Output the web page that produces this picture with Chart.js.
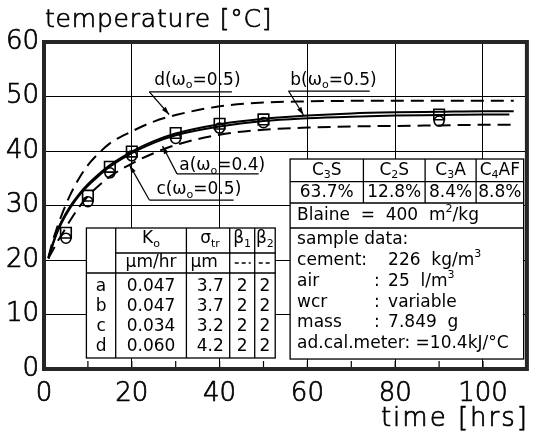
<!DOCTYPE html>
<html>
<head>
<meta charset="utf-8">
<script src="https://cdn.jsdelivr.net/npm/chart.js@4/dist/chart.umd.min.js"></script>
<style>
  html, body { margin: 0; padding: 0; background: #fff; }
  #wrap { width: 536px; height: 440px; }
</style>
</head>
<body>
<div id="wrap"><canvas id="chart" width="536" height="440"></canvas></div>
<script>
// ---- data -------------------------------------------------------------
// model curves: time [hrs] and adiabatic temperature [°C]
const curveTime  = [1, 2, 3, 4, 6, 8, 10, 12, 15, 20, 25, 30, 40, 50, 60, 70, 80, 90, 100, 107];
const curveTimeA = [1, 2, 3, 4, 6, 8, 10, 12, 15, 20, 25, 30, 40, 50, 60, 70, 80, 90, 100, 106];
const curveA = [20.3, 22.8, 25.0, 26.8, 29.6, 31.8, 33.6, 35.1, 37.1, 39.6, 41.5, 42.9, 44.5, 45.5, 46.0, 46.3, 46.5, 46.6, 46.7, 46.7];
const curveB = [20.3, 23.0, 25.3, 27.1, 29.9, 32.1, 33.9, 35.4, 37.4, 39.9, 41.8, 43.2, 44.9, 45.9, 46.5, 46.9, 47.1, 47.2, 47.3, 47.3];
const curveC = [20.3, 21.8, 23.3, 24.6, 27.3, 29.7, 31.7, 33.3, 35.3, 37.7, 39.6, 41.1, 43.0, 43.9, 44.3, 44.5, 44.6, 44.7, 44.8, 44.8];
const curveD = [20.5, 23.5, 26.0, 28.2, 32.0, 35.0, 37.4, 39.2, 41.4, 43.6, 45.4, 46.6, 48.2, 48.9, 49.1, 49.2, 49.2, 49.2, 49.2, 49.2];

// measured temperatures (two specimens)
const measTime   = [5, 10, 15, 20, 30, 40, 50, 90];
const measSquare = [25.0, 31.8, 37.1, 39.9, 43.3, 45.0, 45.8, 46.7];
const measCircle = [24.0, 30.7, 36.0, 39.1, 42.3, 44.2, 45.2, 45.5];

// axes
const xTicks = [0, 20, 40, 60, 80, 100];
const xMinorTicks = [10, 20, 30, 40, 50, 60, 70, 80, 90, 100];
const yTicks = [0, 10, 20, 30, 40, 50, 60];

// model parameter table
const seriesIds = ['a', 'b', 'c', 'd'];
const paramK0 = ['0.047', '0.047', '0.034', '0.060'];
const paramSigma = ['3.7', '3.7', '3.2', '4.2'];
const paramBeta1 = ['2', '2', '2', '2'];
const paramBeta2 = ['2', '2', '2', '2'];
const wcrValues = ['0.4', '0.5', '0.5', '0.5'];

// cement composition
const clinkerPhases = [['C', '3', 'S'], ['C', '2', 'S'], ['C', '3', 'A'], ['C', '4', 'AF']];
const clinkerShares = ['63.7%', '12.8%', '8.4%', '8.8%'];
const blaine = '400';
const sampleRows = [
  ['cement:', '', '226  kg/m', '3'],
  ['air', ':', '25  l/m', '3'],
  ['wcr', ':', 'variable', ''],
  ['mass', ':', '7.849  g', '']
];
const calorimeter = 'ad.cal.meter: =10.4kJ/°C';

// ---- drawing ----------------------------------------------------------
const FONT = '"DejaVu Sans", "Liberation Sans", sans-serif';
const INK = '#000';

const pairs = (xs, ys) => xs.map((x, i) => ({ x, y: ys[i] }));

function setFont(ctx, size, weight) { ctx.font = (weight || 'normal') + ' ' + size + 'px ' + FONT; }

// text made of runs: [text, kind] where kind is '', 'sub' or 'sup'
function runsWidth(ctx, runs, size) {
  let w = 0;
  runs.forEach(([t, k]) => { setFont(ctx, k ? size * 0.65 : size); w += ctx.measureText(t).width; });
  return w;
}
function drawRuns(ctx, runs, x, y, size, align) {
  const w = runsWidth(ctx, runs, size);
  let cx = align === 'center' ? x - w / 2 : (align === 'right' ? x - w : x);
  ctx.textAlign = 'left';
  ctx.textBaseline = 'middle';
  runs.forEach(([t, k]) => {
    const s = k ? size * 0.65 : size;
    setFont(ctx, s);
    const dy = k === 'sub' ? size * 0.3 : (k === 'sup' ? -size * 0.35 : 0);
    ctx.fillText(t, cx, y + dy);
    cx += ctx.measureText(t).width;
  });
}

function line(ctx, x0, y0, x1, y1, dash) {
  ctx.save();
  if (dash) ctx.setLineDash(dash);
  ctx.beginPath(); ctx.moveTo(x0, y0); ctx.lineTo(x1, y1); ctx.stroke();
  ctx.restore();
}

// curve label annotations, anchored in data units
const curveNotes = [
  { id: 'd', tx: 25.1, ty: 53.0, uy: 50.85, ux0: 24.0, ux1: 42.8, px: 28.5, py: 46.7 },
  { id: 'b', tx: 56.1, ty: 53.0, uy: 51.0, ux0: 55.7, ux1: 74.2, px: 59.1, py: 46.6 },
  { id: 'a', tx: 30.8, ty: 37.25, uy: 35.8, ux0: 30.3, ux1: 48.9, px: 27.0, py: 40.9 },
  { id: 'c', tx: 25.6, ty: 32.9, uy: 31.0, ux0: 24.0, ux1: 43.2, px: 19.5, py: 37.4 }
];

const tablesPlugin = {
  id: 'tables',
  beforeDatasetsDraw(chart) {
    const ctx = chart.ctx, X = chart.scales.x, Y = chart.scales.y;
    ctx.save();
    ctx.fillStyle = INK; ctx.strokeStyle = INK; ctx.lineWidth = 1.3;

    // --- parameter table
    let L = X.getPixelForValue(9.66), T = Y.getPixelForValue(25.87);
    let R = X.getPixelForValue(52.67), B = Y.getPixelForValue(2.02);
    ctx.fillStyle = '#fff'; ctx.fillRect(L, T, R - L, B - T); ctx.fillStyle = INK;
    ctx.strokeRect(L, T, R - L, B - T);
    const cols = [0, 29.3, 100, 143.3, 168.3, R - L].map(v => L + v);
    for (let i = 1; i < 5; i++) line(ctx, cols[i], T, cols[i], B);
    line(ctx, cols[1], T + 25, R, T + 25);
    line(ctx, L, T + 45, R, T + 45);
    const fs = 17;
    drawRuns(ctx, [['K', ''], ['o', 'sub']], (cols[1] + cols[2]) / 2, T + 11, fs, 'center');
    drawRuns(ctx, [['σ', ''], ['tr', 'sub']], (cols[2] + cols[3]) / 2 + 2, T + 11, fs, 'center');
    drawRuns(ctx, [['β', ''], ['1', 'sub']], (cols[3] + cols[4]) / 2, T + 11, fs, 'center');
    drawRuns(ctx, [['β', ''], ['2', 'sub']], (cols[4] + cols[5]) / 2, T + 11, fs, 'center');
    drawRuns(ctx, [['μm/hr', '']], (cols[1] + cols[2]) / 2, T + 35, fs, 'center');
    drawRuns(ctx, [['μm', '']], cols[2] + 4, T + 35, fs, 'left');
    line(ctx, cols[3] + 5, T + 35, cols[4] - 4, T + 35, [4, 3]);
    line(ctx, cols[4] + 4, T + 35, cols[5] - 4, T + 35, [4, 3]);
    seriesIds.forEach((id, i) => {
      const y = T + 59 + i * 19.7;
      drawRuns(ctx, [[id, '']], (cols[0] + cols[1]) / 2, y, fs, 'center');
      drawRuns(ctx, [[paramK0[i], '']], cols[1] + 11, y, fs, 'left');
      drawRuns(ctx, [[paramSigma[i], '']], cols[3] - 6, y, fs, 'right');
      drawRuns(ctx, [[paramBeta1[i], '']], (cols[3] + cols[4]) / 2, y, fs, 'center');
      drawRuns(ctx, [[paramBeta2[i], '']], (cols[4] + cols[5]) / 2, y, fs, 'center');
    });

    // --- composition / sample table
    L = X.getPixelForValue(56.06); T = Y.getPixelForValue(38.53);
    R = X.getPixelForValue(109.26); B = Y.getPixelForValue(1.83);
    ctx.fillStyle = '#fff'; ctx.fillRect(L, T, R - L, B - T); ctx.fillStyle = INK;
    ctx.strokeRect(L, T, R - L, B - T);
    const c2 = [0, 73.3, 135, 186, R - L].map(v => L + v);
    for (let i = 1; i < 4; i++) line(ctx, c2[i], T, c2[i], T + 44);
    line(ctx, L, T + 22.7, R, T + 22.7);
    line(ctx, L, T + 44, R, T + 44);
    line(ctx, L, T + 69, R, T + 69);
    clinkerPhases.forEach((p, i) => {
      const cx = (c2[i] + c2[i + 1]) / 2;
      drawRuns(ctx, [[p[0], ''], [p[1], 'sub'], [p[2], '']], cx, T + 11.5, fs, 'center');
      drawRuns(ctx, [[clinkerShares[i], '']], cx, T + 33.5, fs, 'center');
    });
    drawRuns(ctx, [['Blaine  =  ' + blaine + '  m', ''], ['2', 'sup'], ['/kg', '']], L + 7, T + 56.5, fs, 'left');
    drawRuns(ctx, [['sample data:', '']], L + 7, T + 81, fs, 'left');
    sampleRows.forEach((r, i) => {
      const y = T + 101.5 + i * 20.8;
      drawRuns(ctx, [[r[0], '']], L + 7, y, fs, 'left');
      if (r[1]) drawRuns(ctx, [[r[1], '']], L + 84, y, fs, 'left');
      drawRuns(ctx, [[r[2], ''], [r[3], 'sup']], L + 98, y, fs, 'left');
    });
    drawRuns(ctx, [[calorimeter, '']], L + 7, T + 184.3, fs, 'left');
    ctx.restore();
  },
  afterDatasetsDraw(chart) {
    const ctx = chart.ctx, X = chart.scales.x, Y = chart.scales.y, a = chart.chartArea;
    ctx.save();
    ctx.strokeStyle = INK; ctx.fillStyle = INK;

    // curve labels with leaders
    ctx.lineWidth = 1.2;
    curveNotes.forEach(n => {
      const i = seriesIds.indexOf(n.id);
      const tx = X.getPixelForValue(n.tx), ty = Y.getPixelForValue(n.ty);
      drawRuns(ctx, [[n.id + '(ω', ''], ['o', 'sub'], ['=' + wcrValues[i] + ')', '']], tx, ty, 17, 'left');
      const uy = Y.getPixelForValue(n.uy);
      const x0 = X.getPixelForValue(n.ux0), x1 = X.getPixelForValue(n.ux1);
      line(ctx, x0, uy, x1, uy);
      const px = X.getPixelForValue(n.px), py = Y.getPixelForValue(n.py);
      line(ctx, x0, uy, px, py);
      const ang = Math.atan2(py - uy, px - x0);
      ctx.beginPath();
      ctx.moveTo(px, py);
      ctx.lineTo(px - 8 * Math.cos(ang) + 2.5 * Math.sin(ang), py - 8 * Math.sin(ang) - 2.5 * Math.cos(ang));
      ctx.lineTo(px - 8 * Math.cos(ang) - 2.5 * Math.sin(ang), py - 8 * Math.sin(ang) + 2.5 * Math.cos(ang));
      ctx.closePath(); ctx.fill();
    });

    // inward minor ticks on the time axis
    ctx.lineWidth = 1.2;
    xMinorTicks.forEach(v => {
      const x = X.getPixelForValue(v);
      line(ctx, x, a.bottom, x, a.bottom - 8);
    });

    // heavy frame
    ctx.strokeStyle = '#262626';
    ctx.lineWidth = 4;
    ctx.strokeRect(a.left, a.top, a.right - a.left, a.bottom - a.top);
    ctx.restore();
  },
  afterDraw(chart) {
    const ctx = chart.ctx, a = chart.chartArea;
    ctx.save();
    ctx.fillStyle = INK; ctx.strokeStyle = INK; ctx.lineWidth = 0.7;
    ctx.textAlign = 'left'; ctx.textBaseline = 'alphabetic';
    // axis titles
    setFont(ctx, 25, '200');
    ctx.letterSpacing = '0.8px';
    ctx.fillText('temperature [°C]', a.left + 1, 27);
    ctx.strokeText('temperature [°C]', a.left + 1, 27);
    setFont(ctx, 26, '200');
    ctx.letterSpacing = '2px';
    ctx.textAlign = 'right';
    ctx.fillText('time [hrs]', a.right + 2, 426);
    ctx.strokeText('time [hrs]', a.right + 2, 426);
    ctx.restore();
  }
};

const whiteBg = {
  id: 'whiteBg',
  beforeDraw(chart) {
    const ctx = chart.ctx;
    ctx.save(); ctx.fillStyle = '#fff'; ctx.fillRect(0, 0, chart.width, chart.height); ctx.restore();
  }
};

const curveStyle = (dash, w) => ({
  borderColor: INK, borderWidth: w, borderDash: dash, pointRadius: 0,
  cubicInterpolationMode: 'monotone', fill: false
});
const markStyle = (style, r) => ({
  showLine: false, pointStyle: style, pointRadius: r, pointBorderColor: INK,
  pointBackgroundColor: 'rgba(0,0,0,0)', pointBorderWidth: 1.6, borderColor: INK
});

const tickFont = { family: FONT, size: 26, weight: '200' };

new Chart(document.getElementById('chart'), {
  type: 'line',
  data: {
    datasets: [
      { label: 'a', data: pairs(curveTimeA, curveA), ...curveStyle([], 2) },
      { label: 'b', data: pairs(curveTime, curveB), ...curveStyle([], 2) },
      { label: 'c', data: pairs(curveTime, curveC), ...curveStyle([13, 7], 2) },
      { label: 'd', data: pairs(curveTime, curveD), ...curveStyle([13, 7], 2) },
      { label: 'square', data: pairs(measTime, measSquare), ...markStyle('rect', 7.5) },
      { label: 'circle', data: pairs(measTime, measCircle), ...markStyle('circle', 5) }
    ]
  },
  options: {
    responsive: false,
    animation: false,
    events: [],
    layout: { padding: { left: 0, top: 42, right: 6, bottom: 0 } },
    plugins: { legend: { display: false }, tooltip: { enabled: false }, title: { display: false } },
    scales: {
      x: {
        type: 'linear', min: 0, max: 110,
        afterBuildTicks: s => { s.ticks = xTicks.map(v => ({ value: v })); },
        afterFit: s => { s.height = 71; },
        border: { display: false },
        grid: { color: c => (c.tick && c.tick.value > 0) ? INK : 'rgba(0,0,0,0)', lineWidth: 1, drawTicks: false },
        ticks: { font: tickFont, color: INK, textStrokeColor: INK, textStrokeWidth: 0.7,
                 padding: 10, maxRotation: 0, autoSkip: false }
      },
      y: {
        min: 0, max: 60,
        afterBuildTicks: s => { s.ticks = yTicks.map(v => ({ value: v })); },
        afterFit: s => { s.width = 44; },
        border: { display: false },
        grid: { color: c => (c.tick && c.tick.value > 0 && c.tick.value < 60) ? INK : 'rgba(0,0,0,0)', lineWidth: 1, drawTicks: false },
        ticks: { font: tickFont, color: INK, textStrokeColor: INK, textStrokeWidth: 0.7, padding: 5 }
      }
    }
  },
  plugins: [whiteBg, tablesPlugin]
});
</script>
</body>
</html>
